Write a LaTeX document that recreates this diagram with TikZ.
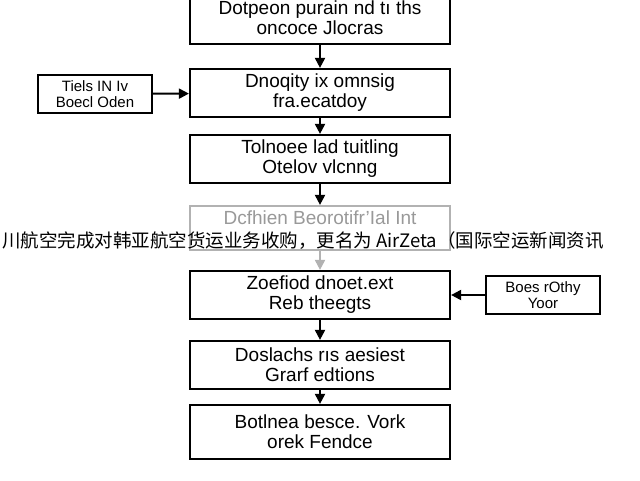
\documentclass[tikz,border=0pt]{standalone}
\usepackage{fontspec}
\setmainfont{Liberation Sans}
\newfontfamily\cjk{Noto Sans CJK SC}
\usetikzlibrary{positioning,arrows.meta}
\tikzset{
  stepbox/.style={draw, line width=2.2pt, minimum width=260pt, minimum height=48pt, align=center, font=\fontsize{19}{20}\selectfont, inner sep=2pt},
  sidebox/.style={draw, line width=2pt, minimum width=114pt, minimum height=38pt, align=center, font=\fontsize{15}{16}\selectfont},
  flow/.style={-{Triangle[length=10pt,width=10pt]}, line width=2pt}
}
\begin{document}
\begin{tikzpicture}[x=1pt,y=-1pt]
  \useasboundingbox (0,0) rectangle (640,480);
  \node[stepbox, minimum height=52pt] (dp) at (320,18) {Dotpeon purain nd tı ths\\oncoce Jlocras};
  \node[stepbox] (dq) at (320,93) {Dnoqity ix omnsig\\fra.ecatdoy};
  \node[stepbox] (tl) at (320,159) {Tolnoee lad tuitling\\Otelov vlcnng};
  \node[stepbox, draw=black!30, text=black!40, minimum height=44pt] (df) at (320,228) {Dcfhien Beorotifr'Ial Int\\\phantom{x}};
  \node[stepbox] (zd) at (320,295) {Zoefiod dnoet.ext\\Reb theegts};
  \node[stepbox] (ds) at (320,365) {Doslachs rıs aesiest\\Grarf edtions};
  \node[stepbox, minimum height=54pt] (bb) at (320,432) {Botlnea besce. Vork\\orek Fendce};
  \node[sidebox] (ti) at (95,94) {Tiels IN Iv\\Boecl Oden};
  \node[sidebox] (br) at (543,295) {Boes rOthy\\Yoor};
  \draw[flow] (dp) -- (dq);
  \draw[flow] (dq) -- (tl);
  \draw[flow] (tl) -- (df);
  \draw[flow, draw=black!30, fill=black!30] (df) -- (zd);
  \draw[flow] (zd) -- (ds);
  \draw[flow] (ds) -- (bb);
  \draw[flow] (ti) -- (dq);
  \draw[flow] (br) -- (zd);
  \node[inner sep=0pt, font=\cjk\fontsize{18.5}{20}\selectfont, anchor=west] (cn) at (2,241) {川航空完成对韩亚航空货运业务收购，更名为 AirZeta（国际空运新闻资讯};
\end{tikzpicture}
\end{document}
